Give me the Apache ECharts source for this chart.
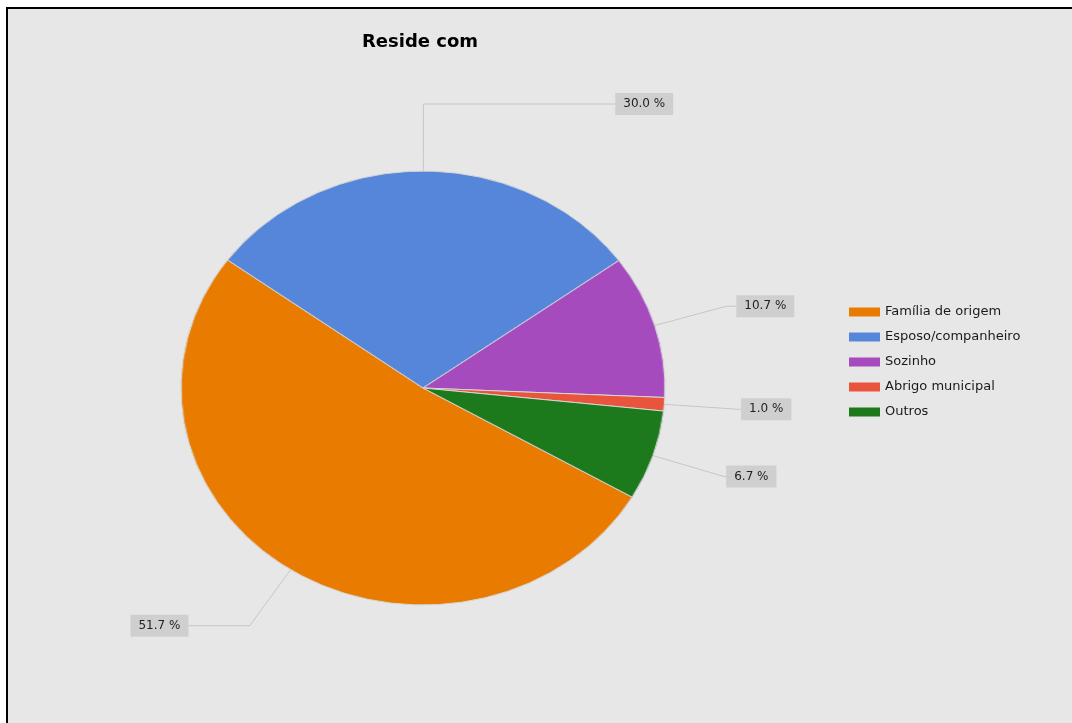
<!DOCTYPE html>
<html>
<head>
<meta charset="utf-8">
<script src="https://cdn.jsdelivr.net/npm/echarts/dist/echarts.min.js"></script>
<style>
html,body{margin:0;padding:0;width:1072px;height:723px;overflow:hidden;background:#fff;}
#frame{position:absolute;left:6px;top:7px;width:1066px;height:716px;border-top:2px solid #000;border-left:2px solid #000;background:#e7e7e7;box-sizing:border-box;}
#pie{position:absolute;left:0;top:0;width:1072px;height:723px;transform:scaleX(1.1152);transform-origin:423px 388px;}
#over{position:absolute;left:0;top:0;width:1072px;height:723px;}
</style>
</head>
<body>
<div id="frame"></div>
<div id="pie"></div>
<div id="over"></div>
<script>
// ---- data ----
const categories = ['Família de origem', 'Esposo/companheiro', 'Sozinho', 'Abrigo municipal', 'Outros'];
const values = [51.7, 30.0, 10.7, 1.0, 6.7];
const colors = ['#E87B00', '#5686DA', '#A64BBE', '#E8553C', '#1C7A1C'];
const titleText = 'Reside com';

// ---- layout / style ----
const CX = 423, CY = 388, R = 217, K = 242 / 217, START = -30.2;
const lineLen2 = [55, 172, 9, 2, 2];

const pieChart = echarts.init(document.getElementById('pie'));
pieChart.setOption({
  animation: false,
  series: [{
    type: 'pie',
    center: [CX, CY],
    radius: R,
    startAngle: START,
    clockwise: true,
    silent: true,
    label: { show: false },
    labelLine: { show: false },
    itemStyle: { borderColor: '#d6d6d6', borderWidth: 1 },
    data: categories.map((n, i) => ({ name: n, value: values[i], itemStyle: { color: colors[i] } }))
  }]
});

const over = echarts.init(document.getElementById('over'));
over.setOption({
  animation: false,
  title: {
    text: titleText, left: 362, top: 31, padding: 0,
    textStyle: { fontFamily: 'DejaVu Sans', fontSize: 18, fontWeight: 'bold', color: '#000', lineHeight: 22 }
  },
  legend: {
    orient: 'vertical', left: 849, top: 304, padding: 0,
    itemWidth: 31, itemHeight: 9, itemGap: 9, icon: 'rect',
    selectedMode: false,
    textStyle: { fontFamily: 'DejaVu Sans', fontSize: 13, color: '#1a1a1a', lineHeight: 16 },
    data: categories.map((n, i) => ({ name: n, itemStyle: { color: colors[i], opacity: 1, borderWidth: 0 } }))
  },
  series: [{
    type: 'pie',
    center: [CX, CY],
    radius: R,
    startAngle: START,
    clockwise: true,
    avoidLabelOverlap: false,
    silent: true,
    itemStyle: { color: 'rgba(0,0,0,0)', borderWidth: 0 },
    label: {
      show: true, position: 'outside',
      formatter: p => p.value.toFixed(1) + ' %',
      fontFamily: 'DejaVu Sans', fontSize: 12, color: '#222', opacity: 1,
      backgroundColor: '#cfcfcf', padding: [4, 8], lineHeight: 14,
      distanceToLabelLine: 0
    },
    labelLine: { show: true, length: 67, lineStyle: { color: '#c6c6c6', width: 1, opacity: 1 } },
    labelLayout: function (p) {
      const pts = p.labelLinePoints;
      if (!pts) return {};
      const sp = pts.map(q => [CX + K * (q[0] - CX), q[1]]);
      const end = sp[sp.length - 1];
      return { x: end[0], y: end[1], align: p.align, verticalAlign: 'middle', labelLinePoints: sp };
    },
    data: categories.map((n, i) => ({ name: n, value: values[i], labelLine: { length2: lineLen2[i] } }))
  }]
});
</script>
</body>
</html>
